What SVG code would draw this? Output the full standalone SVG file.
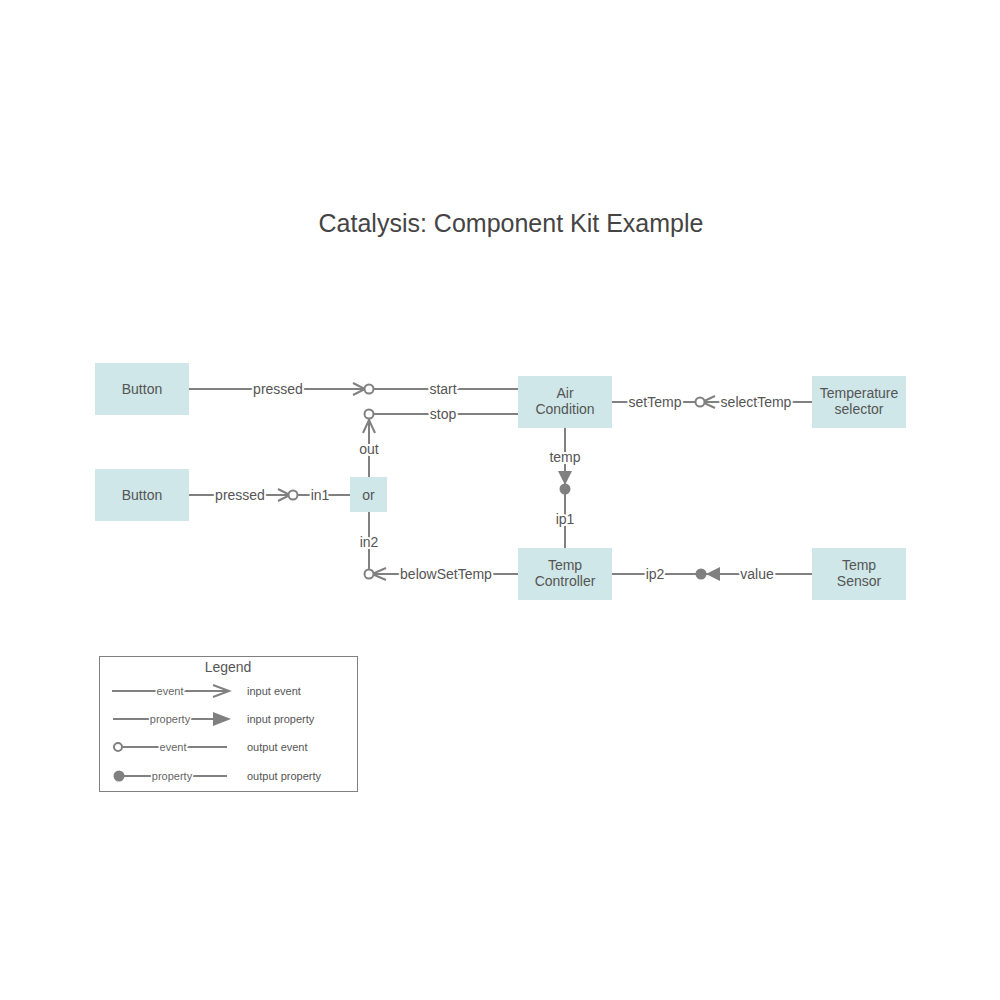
<svg xmlns="http://www.w3.org/2000/svg" width="1000" height="1000" viewBox="0 0 1000 1000">
<style>
.node rect{fill:#cfe7e8;stroke:none}
.node text{font-family:"Liberation Sans",Arial,sans-serif;font-size:14px;fill:#555;text-anchor:middle}
.ln{stroke:#808080;stroke-width:2;fill:none}
.hc{stroke:#808080;stroke-width:2;fill:#fff}
.fc{fill:#808080;stroke:none}
.lbl{font-family:"Liberation Sans",Arial,sans-serif;font-size:14px;fill:#555;text-anchor:middle;dominant-baseline:central;stroke:#fff;stroke-width:4;paint-order:stroke}
.sl{font-family:"Liberation Sans",Arial,sans-serif;font-size:11px;fill:#666;text-anchor:middle;dominant-baseline:central;stroke:#fff;stroke-width:3;paint-order:stroke}
.lt{font-family:"Liberation Sans",Arial,sans-serif;font-size:11px;fill:#555;dominant-baseline:central}
</style>
<rect width="1000" height="1000" fill="#fff"/>
<text x="511" y="232" font-family="Liberation Sans,Arial,sans-serif" font-size="25" fill="#444" text-anchor="middle">Catalysis: Component Kit Example</text>

<g id="connectors">
  <!-- pressed -> start -->
  <line class="ln" x1="189" y1="389" x2="364" y2="389"/>
  <line class="ln" x1="373" y1="389" x2="518" y2="389"/>
  <polyline class="ln" points="353,383 365,389 353,395"/>
  <circle class="hc" cx="369" cy="389" r="4.5"/>
  <text class="lbl" x="278" y="389">pressed</text>
  <text class="lbl" x="443" y="389">start</text>
  <!-- stop / out -->
  <line class="ln" x1="373" y1="414" x2="518" y2="414"/>
  <line class="ln" x1="369" y1="419" x2="369" y2="477"/>
  <polyline class="ln" points="363,433 369,420 375,433"/>
  <circle class="hc" cx="369" cy="414" r="4.5"/>
  <text class="lbl" x="443" y="414">stop</text>
  <text class="lbl" x="369" y="449">out</text>
  <!-- pressed -> in1 -->
  <line class="ln" x1="189" y1="495" x2="288" y2="495"/>
  <line class="ln" x1="297" y1="495" x2="350" y2="495"/>
  <polyline class="ln" points="278,489 290,495 278,501"/>
  <circle class="hc" cx="293" cy="495" r="4.5"/>
  <text class="lbl" x="240" y="495">pressed</text>
  <text class="lbl" x="320" y="495">in1</text>
  <!-- belowSetTemp -> in2 -->
  <line class="ln" x1="369" y1="512" x2="369" y2="569"/>
  <line class="ln" x1="373" y1="574" x2="518" y2="574"/>
  <polyline class="ln" points="386,568 372,574 386,580"/>
  <circle class="hc" cx="369" cy="574" r="4.5"/>
  <text class="lbl" x="369" y="542">in2</text>
  <text class="lbl" x="446" y="574">belowSetTemp</text>
  <!-- selectTemp -> setTemp -->
  <line class="ln" x1="612" y1="402" x2="696" y2="402"/>
  <line class="ln" x1="704" y1="402" x2="812" y2="402"/>
  <polyline class="ln" points="715,396 702,402 715,408"/>
  <circle class="hc" cx="700" cy="402" r="4.5"/>
  <text class="lbl" x="655" y="402">setTemp</text>
  <text class="lbl" x="756" y="402">selectTemp</text>
  <!-- temp -> ip1 -->
  <line class="ln" x1="565" y1="428" x2="565" y2="548"/>
  <polygon class="fc" points="558,471 572,471 565,485"/>
  <circle class="fc" cx="565" cy="489" r="5.5"/>
  <text class="lbl" x="565" y="457">temp</text>
  <text class="lbl" x="565" y="519">ip1</text>
  <!-- value -> ip2 -->
  <line class="ln" x1="612" y1="574" x2="812" y2="574"/>
  <circle class="fc" cx="701" cy="574" r="5.5"/>
  <polygon class="fc" points="720,567 720,581 706,574"/>
  <text class="lbl" x="655" y="574">ip2</text>
  <text class="lbl" x="757" y="574">value</text>
</g>

<g id="button1" class="node"><rect x="95" y="363" width="94" height="52"/><text x="142" y="394">Button</text></g>
<g id="button2" class="node"><rect x="95" y="469" width="94" height="52"/><text x="142" y="500">Button</text></g>
<g id="or" class="node"><rect x="350" y="477" width="37" height="35"/><text x="368.5" y="500">or</text></g>
<g id="aircondition" class="node"><rect x="518" y="376" width="94" height="52"/><text x="565" y="398">Air</text><text x="565" y="414">Condition</text></g>
<g id="tempselector" class="node"><rect x="812" y="376" width="94" height="52"/><text x="859" y="398">Temperature</text><text x="859" y="414">selector</text></g>
<g id="tempcontroller" class="node"><rect x="518" y="548" width="94" height="52"/><text x="565" y="570">Temp</text><text x="565" y="586">Controller</text></g>
<g id="tempsensor" class="node"><rect x="812" y="548" width="94" height="52"/><text x="859" y="570">Temp</text><text x="859" y="586">Sensor</text></g>

<g id="legend">
  <rect x="99.5" y="656.5" width="258" height="135" fill="#fff" stroke="#808080" stroke-width="1"/>
  <text x="228" y="672" font-family="Liberation Sans,Arial,sans-serif" font-size="14" fill="#555" text-anchor="middle">Legend</text>
  <line class="ln" x1="112" y1="691" x2="228" y2="691"/>
  <polyline class="ln" points="213,685 229,691 213,697"/>
  <text class="sl" x="170" y="691">event</text>
  <text class="lt" x="247" y="691">input event</text>
  <line class="ln" x1="113" y1="719" x2="214" y2="719"/>
  <polygon class="fc" points="213,712 231,719 213,726"/>
  <text class="sl" x="170" y="719">property</text>
  <text class="lt" x="247" y="719">input property</text>
  <line class="ln" x1="122" y1="747" x2="227" y2="747"/>
  <circle class="hc" cx="118" cy="747" r="4"/>
  <text class="sl" x="173" y="747">event</text>
  <text class="lt" x="247" y="747">output event</text>
  <line class="ln" x1="122" y1="776" x2="227" y2="776"/>
  <circle class="fc" cx="119" cy="776" r="5.5"/>
  <text class="sl" x="172" y="776">property</text>
  <text class="lt" x="247" y="776">output property</text>
</g>
</svg>
